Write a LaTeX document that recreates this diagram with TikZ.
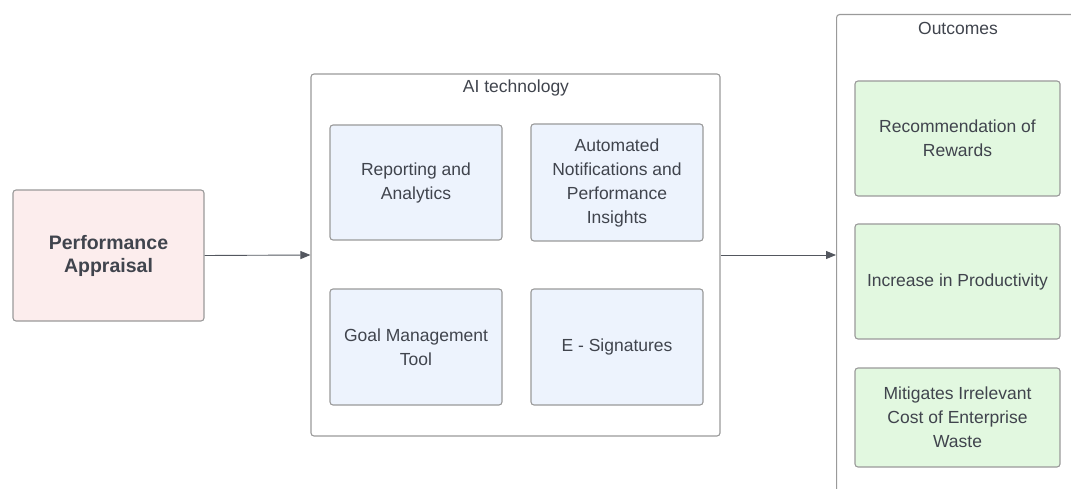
\documentclass[tikz,border=0pt]{standalone}
\usepackage{fontspec}
\setmainfont{Liberation Sans}
\usetikzlibrary{arrows.meta}
\definecolor{edge}{HTML}{9A9A9A}
\definecolor{txt}{HTML}{40444D}
\definecolor{pinkfill}{HTML}{FCEDED}
\definecolor{bluefill}{HTML}{EDF3FD}
\definecolor{greenfill}{HTML}{E2F8E0}
\begin{document}
\begin{tikzpicture}[x=1pt,y=-1pt,
  box/.style={draw=edge, line width=1.1pt, rounded corners=3pt, align=center, text=txt, inner sep=0pt, font=\fontsize{17.5}{24}\selectfont},
  container/.style={draw=edge, line width=1.1pt, rounded corners=3pt},
  conn/.style={draw=txt!90, line width=0.9pt, -{Triangle[length=10pt,width=8pt]}},
  title/.style={text=txt, font=\fontsize{17.5}{24}\selectfont}]
\useasboundingbox (0,0) rectangle (1071,489);
\clip (0,0) rectangle (1071,489);
% left box
\node[box, fill=pinkfill, minimum width=191pt, minimum height=131pt, font=\bfseries\fontsize{19.5}{23}\selectfont] (pa) at (108.5,255.5) {Performance\\Appraisal};
% AI container
\node[container, minimum width=409pt, minimum height=362pt, inner sep=0pt] (ai) at (515.5,255) {};
\node[title] (aititle) at (516,88) {AI technology};
\node[box, fill=bluefill, minimum width=172pt, minimum height=115pt] (rep) at (416,182.5) {Reporting and\\Analytics};
\node[box, fill=bluefill, minimum width=172pt, minimum height=117pt] (auto) at (617,182.5) {Automated\\Notifications and\\Performance\\Insights};
\node[box, fill=bluefill, minimum width=172pt, minimum height=116pt] (goal) at (416,347) {Goal Management\\Tool};
\node[box, fill=bluefill, minimum width=172pt, minimum height=116pt] (esig) at (617,347) {E - Signatures};
% Outcomes container (extends beyond the picture)
\node[container, minimum width=400pt, minimum height=600pt, inner sep=0pt, anchor=north west] (out) at (836,14) {};
\coordinate (outl) at (836,255);
\node[title] (outtitle) at (958,28) {Outcomes};
\node[box, fill=greenfill, minimum width=205pt, minimum height=115pt] (rec) at (957.5,138.5) {Recommendation of\\Rewards};
\node[box, fill=greenfill, minimum width=205pt, minimum height=115pt] (inc) at (957.5,281.5) {Increase in Productivity};
\node[box, fill=greenfill, minimum width=205pt, minimum height=99pt] (mit) at (957.5,417.5) {Mitigates Irrelevant\\Cost of Enterprise\\Waste};
% connectors
\draw[conn] (pa.east) -- (ai.west);
\draw[conn] (ai.east) -- (outl);
\end{tikzpicture}
\end{document}
